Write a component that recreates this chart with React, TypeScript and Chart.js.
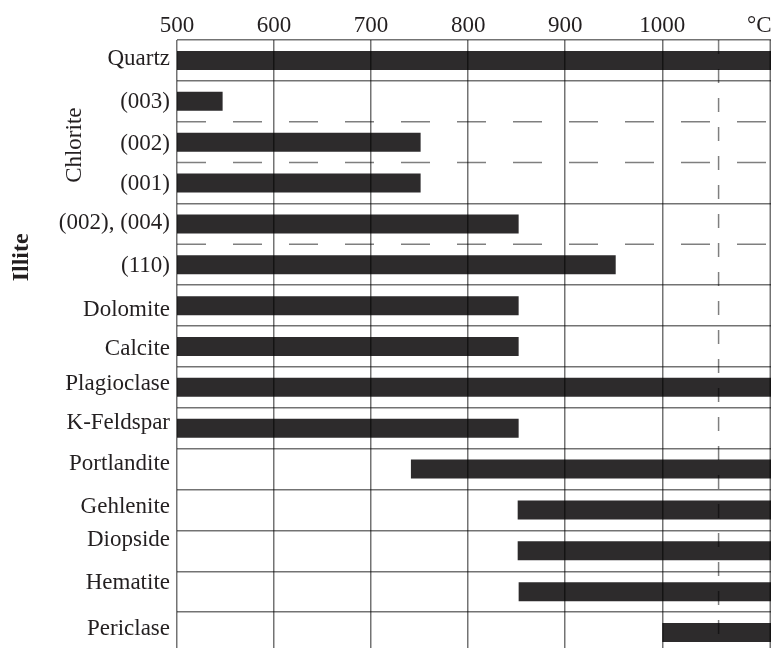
import React, { useEffect, useRef } from 'react';
import { Chart, registerables } from 'chart.js';

Chart.register(...registerables);

const MINERALS = [
  'Quartz', '(003)', '(002)', '(001)', '(002), (004)', '(110)', 'Dolomite', 'Calcite',
  'Plagioclase', 'K-Feldspar', 'Portlandite', 'Gehlenite', 'Diopside', 'Hematite', 'Periclase',
];
const X_MIN = 500;
const X_MAX = 1112;
const START_TEMPS = [500, 500, 500, 500, 500, 500, 500, 500, 500, 500, 741, 851, 851, 852, 1000];
const END_TEMPS = [X_MAX, 547, 751, 751, 852, 952, 852, 852, X_MAX, 852, X_MAX, X_MAX, X_MAX, X_MAX, X_MAX];
const TICK_VALUES = [500, 600, 700, 800, 900, 1000, 1100];
const TICK_LABELS = ['500', '600', '700', '800', '900', '1000', '°C'];
const DASHED_BOUNDARIES = [2, 3, 5];
const REF_TEMP = 1058;
const GROUP_LABELS = ['Chlorite', 'Illite'];
const GROUP_FIRST = [1, 4];
const GROUP_LAST = [3, 5];

const FONT = "'Liberation Serif', 'Times New Roman', serif";
const TEXT = '#231f20';
const GRID = 'rgba(0,0,0,0.55)';
const BAR = '#2d2b2c';
// small vertical nudges of the row labels (px), as typeset in the original figure
const LABEL_DY = [-1, 1, 2, 1, -1, 1, 4, 2, -3, -5, -5, -3, -11, -9, -4];

const overlayPlugin = {
  id: 'overlay',
  afterDatasetsDraw(chart: any) {
    const { ctx, chartArea: a, scales } = chart;
    const x = scales.x;
    const y = scales.y;
    ctx.save();
    ctx.strokeStyle = 'rgba(0,0,0,0.5)';
    ctx.lineWidth = 1.5;
    ctx.setLineDash([29, 27]);
    DASHED_BOUNDARIES.forEach((i) => {
      const py = (y.getPixelForValue(i - 1) + y.getPixelForValue(i)) / 2;
      ctx.beginPath();
      ctx.moveTo(a.left, py);
      ctx.lineTo(a.right, py);
      ctx.stroke();
    });
    ctx.setLineDash([14, 15]);
    const px = x.getPixelForValue(REF_TEMP);
    ctx.beginPath();
    ctx.moveTo(px, a.top);
    ctx.lineTo(px, a.bottom);
    ctx.stroke();
    ctx.restore();
  },
  afterDraw(chart: any) {
    const { ctx, chartArea: a, scales } = chart;
    const y = scales.y;
    ctx.save();
    // right frame edge
    ctx.strokeStyle = GRID;
    ctx.lineWidth = 1.5;
    ctx.beginPath();
    ctx.moveTo(a.right - 0.75, a.top);
    ctx.lineTo(a.right - 0.75, a.bottom);
    ctx.stroke();
    // row labels
    ctx.fillStyle = TEXT;
    ctx.font = `23px ${FONT}`;
    ctx.textAlign = 'right';
    ctx.textBaseline = 'middle';
    MINERALS.forEach((m, i) => {
      ctx.fillText(m, a.left - 7, y.getPixelForValue(i) + LABEL_DY[i]);
    });
    // group labels
    const opts = [
      { x: 75, dy: 3, font: `23px ${FONT}` },
      { x: 22, dy: 13, font: `bold 24px ${FONT}` },
    ];
    ctx.textAlign = 'center';
    GROUP_LABELS.forEach((label, g) => {
      const cy = (y.getPixelForValue(GROUP_FIRST[g]) + y.getPixelForValue(GROUP_LAST[g])) / 2 + opts[g].dy;
      ctx.save();
      ctx.translate(opts[g].x, cy);
      ctx.rotate(-Math.PI / 2);
      ctx.font = opts[g].font;
      ctx.fillText(label, 0, 0);
      ctx.restore();
    });
    ctx.restore();
  },
};

export default function App() {
  const ref = useRef<HTMLCanvasElement>(null);
  useEffect(() => {
    const canvas = ref.current!;
    const chart = new Chart(canvas, {
      type: 'bar',
      data: {
        labels: MINERALS,
        datasets: [
          {
            data: MINERALS.map((_, i) => [START_TEMPS[i], END_TEMPS[i]]) as any,
            backgroundColor: BAR,
            borderWidth: 0,
            barPercentage: 1,
            categoryPercentage: 0.465,
          },
        ],
      },
      options: {
        indexAxis: 'y',
        responsive: false,
        animation: false,
        devicePixelRatio: 1,
        layout: { padding: { left: 0, right: 1, top: 0, bottom: 0 } },
        plugins: { legend: { display: false }, tooltip: { enabled: false } },
        scales: {
          x: {
            type: 'linear',
            position: 'top',
            min: X_MIN,
            max: X_MAX,
            afterBuildTicks: (s: any) => {
              s.ticks = TICK_VALUES.map((v) => ({ value: v }));
            },
            afterFit: (s: any) => {
              s.height = 40;
              s.paddingLeft = 0;
              s.paddingRight = 0;
            },
            ticks: {
              padding: 0.5,
              color: TEXT,
              font: { family: FONT, size: 23 },
              maxRotation: 0,
              autoSkip: false,
              callback: (v: any) => {
                const i = TICK_VALUES.indexOf(Number(v));
                return i >= 0 ? TICK_LABELS[i] : '';
              },
            },
            grid: {
              z: 1,
              drawTicks: false,
              lineWidth: 1.5,
              color: (c: any) => (c.tick && c.tick.value === 1100 ? 'rgba(0,0,0,0)' : GRID),
            },
            border: { display: false },
          },
          y: {
            type: 'category',
            afterFit: (s: any) => {
              s.width = 177;
              s.paddingTop = 0;
              s.paddingBottom = 0;
            },
            ticks: { display: false },
            grid: {
              drawTicks: false,
              lineWidth: 1.5,
              color: (c: any) => (DASHED_BOUNDARIES.includes(c.index) ? 'rgba(0,0,0,0)' : GRID),
            },
            border: { display: false },
          },
        },
      },
      plugins: [overlayPlugin],
    });
    return () => chart.destroy();
  }, []);
  return (
    <div style={{ position: 'absolute', left: 0, top: 0, width: 772, height: 648, overflow: 'hidden', background: '#fff' }}>
      <canvas ref={ref} width={772} height={653} style={{ display: 'block' }} />
    </div>
  );
}
